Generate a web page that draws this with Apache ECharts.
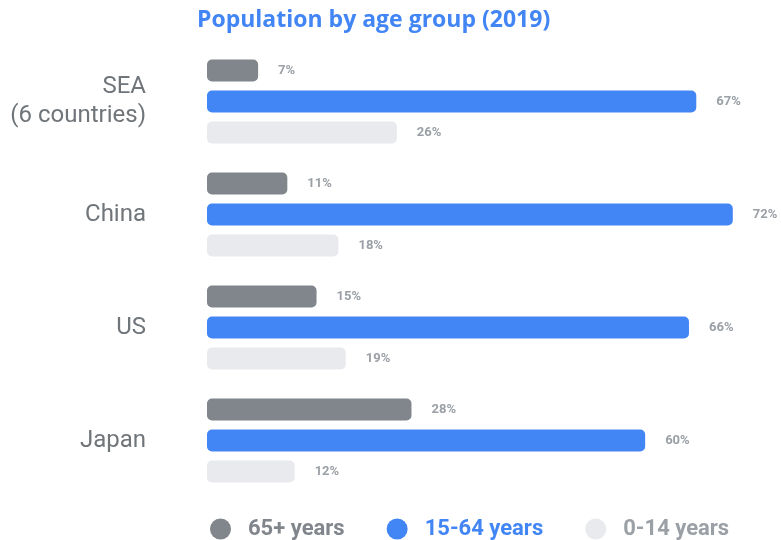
<!DOCTYPE html>
<html>
<head>
<meta charset="utf-8">
<script src="https://cdn.jsdelivr.net/npm/echarts@6/dist/echarts.min.js"></script>
<style>
  html, body { margin: 0; padding: 0; background: #fff; }
  #chart { width: 781px; height: 540px; }
</style>
</head>
<body>
<div id="chart"></div>
<script>
// 国家/地区
var regions = ['SEA\n(6 countries)', 'China', 'US', 'Japan'];
// 各年龄段占比 (%)
var age65plus = [7, 11, 15, 28];
var age15to64 = [67, 72, 66, 60];
var age0to14 = [26, 18, 19, 12];

var colors = {
    old: '#80868b',
    mid: '#4285f4',
    young: '#e8eaed'
};

var chart = echarts.init(document.getElementById('chart'));

var labelStyle = {
    show: true,
    position: 'right',
    distance: 20,
    formatter: '{c}%',
    color: '#9aa0a6',
    fontSize: 13,
    fontWeight: 'bold',
    fontFamily: 'Roboto'
};

var option = {
    animation: false,
    title: {
        text: 'Population by age group (2019)',
        left: 192,
        top: 4,
        textStyle: {
            color: '#4285f4',
            fontSize: 23,
            fontWeight: 'bold',
            fontFamily: 'Open Sans'
        }
    },
    legend: {
        top: 513,
        left: 205,
        icon: 'circle',
        itemWidth: 21,
        itemHeight: 21,
        itemGap: 42,
        textStyle: {
            fontSize: 22,
            fontWeight: 'bold',
            fontFamily: 'Roboto',
            padding: [0, 0, 0, 12]
        },
        data: [
            {name: '65+ years', textStyle: {color: '#80868b'}},
            {name: '15-64 years', textStyle: {color: '#4285f4'}},
            {name: '0-14 years', textStyle: {color: '#9aa0a6'}}
        ]
    },
    grid: {
        left: 207,
        top: 45,
        height: 452,
        width: 555
    },
    xAxis: {
        type: 'value',
        min: 0,
        max: 76,
        show: false
    },
    yAxis: {
        type: 'category',
        inverse: true,
        data: regions,
        axisLine: {show: false},
        axisTick: {show: false},
        axisLabel: {
            margin: 61,
            color: '#70757a',
            fontSize: 24,
            lineHeight: 29,
            fontFamily: 'Roboto',
            align: 'right',
            padding: [4, 0, 0, 0]
        }
    },
    series: [
        {
            name: '65+ years',
            type: 'bar',
            data: age65plus,
            barWidth: 22,
            barGap: '41%',
            itemStyle: {color: colors.old, borderRadius: 5},
            label: labelStyle
        },
        {
            name: '15-64 years',
            type: 'bar',
            data: age15to64,
            barWidth: 22,
            barGap: '41%',
            itemStyle: {color: colors.mid, borderRadius: 5},
            label: labelStyle
        },
        {
            name: '0-14 years',
            type: 'bar',
            data: age0to14,
            barWidth: 22,
            barGap: '41%',
            itemStyle: {color: colors.young, borderRadius: 5},
            label: labelStyle
        }
    ]
};

chart.setOption(option);
</script>
</body>
</html>
